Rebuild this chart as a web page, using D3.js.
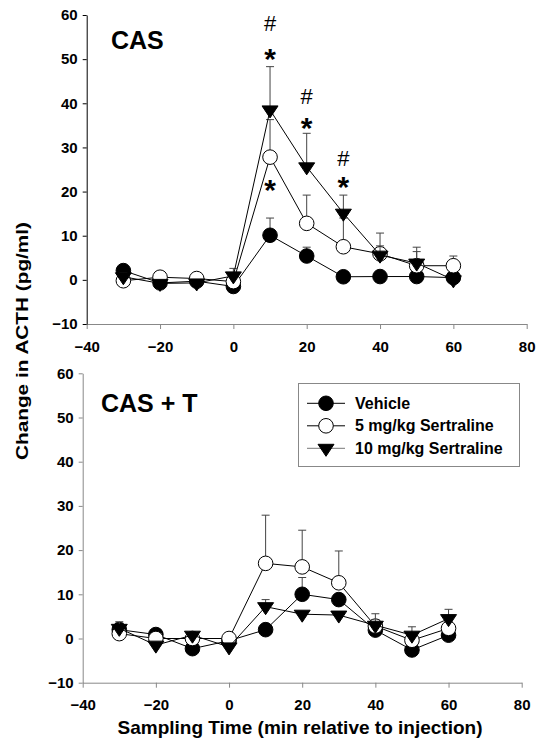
<!DOCTYPE html>
<html>
<head>
<meta charset="utf-8">
<script src="https://d3js.org/d3.v7.min.js"></script>
<style>
  body { margin: 0; background: #fff; }
  svg text { font-family: Arial, "Liberation Sans", sans-serif; font-weight: bold; }
</style>
</head>
<body>
<div id="chart"></div>
<script>
// sampling times (min relative to injection)
const times = [-30, -20, -10, 0, 10, 20, 30, 40, 50, 60];

// CAS panel: means and upper SEM
const vehCAS = [2.1, -0.7, -0.3, -1.5, 10.1, 5.4, 0.7, 0.75, 0.75, 0.5];
const vehCASerr = [0.5, 0.3, 0.3, 0.5, 3.9, 2.0, 0.3, 0.3, 0.3, 0.3];
const s5CAS = [-0.2, 0.6, 0.3, -0.4, 27.8, 12.8, 7.5, 5.9, 3.2, 3.2];
const s5CASerr = [0.5, 0.5, 0.5, 0.5, 8.5, 6.4, 6.5, 4.7, 3.2, 2.2];
const s10CAS = [0.7, -0.8, -0.7, 0.9, 38.5, 25.6, 15.1, 5.6, 3.8, 0];
const s10CASerr = [0.9, 0.5, 0.5, 1.7, 9.8, 7.6, 4.1, 2.1, 3.6, 0.5];

// CAS + T panel
const vehCAST = [2.0, 0.9, -2.3, -0.5, 2.0, 10.0, 8.8, 1.9, -2.6, 0.75];
const vehCASTerr = [1.5, 0.5, 0.5, 0.5, 0.5, 3.8, 0.5, 0.5, 0.5, 0.5];
const s5CAST = [1.1, 0, 0, 0, 17, 16.2, 12.6, 2.8, -0.4, 2.3];
const s5CASTerr = [0.5, 0.5, 0.5, 0.5, 10.9, 8.3, 7.2, 1.5, 1.5, 1.5];
const s10CAST = [2.3, -1.5, 0.75, -1.9, 7.2, 5.5, 5.3, 3.0, 0.75, 4.5];
const s10CASTerr = [1.5, 0.5, 0.5, 0.5, 1.6, 0.5, 0.5, 2.6, 1.9, 2.1];

const seriesNames = ["Vehicle", "5 mg/kg Sertraline", "10 mg/kg Sertraline"];
const xTicks = [-40, -20, 0, 20, 40, 60, 80];
const yTicks = [-10, 0, 10, 20, 30, 40, 50, 60];

// significance marks in CAS panel: [time, "#" level, "*" level]
const marksCAS = [[10, 58.1, 51.6], [20, 41.5, 36.0], [30, 27.5, 22.6]];
// "*" alone under the 5 mg/kg point: [time, level]
const starsCAS = [[10, 22.0]];

const svg = d3.select("#chart").append("svg")
    .attr("width", 536).attr("height", 740);

function drawPanel(p) {
    const x = d3.scaleLinear().domain([-40, 80]).range([p.x0, p.x1]);
    const y = d3.scaleLinear().domain([-10, 60]).range([p.y0, p.y1]);
    const g = svg.append("g");

    const xAxis = g.append("g")
        .attr("transform", `translate(0,${p.y0})`)
        .call(d3.axisBottom(x).tickValues(xTicks).tickSize(5).tickPadding(12).tickSizeOuter(0));
    xAxis.select(".domain").attr("stroke", "#888");
    xAxis.selectAll(".tick line").attr("stroke", "#888");
    xAxis.selectAll("text").attr("font-size", 15).attr("fill", "#000");

    const yAxis = g.append("g")
        .attr("transform", `translate(${p.x0},0)`)
        .call(d3.axisLeft(y).tickValues(yTicks).tickSize(4).tickPadding(5).tickSizeOuter(0));
    yAxis.select(".domain").attr("stroke", p.yAxisColor);
    yAxis.selectAll(".tick line").attr("stroke", p.yAxisColor);
    yAxis.selectAll("text").attr("font-size", 15).attr("fill", "#000");

    g.append("text")
        .attr("x", p.labelX).attr("y", p.labelY)
        .attr("font-size", 25)
        .text(p.label);

    const line = d3.line().x((d, i) => x(times[i])).y(d => y(d));

    p.series.forEach((s, k) => {
        // error bars (upper only)
        const eb = g.append("g").attr("stroke", "#444").attr("stroke-width", 1);
        s.mean.forEach((m, i) => {
            const top = y(m + s.err[i]);
            eb.append("line")
                .attr("x1", x(times[i])).attr("x2", x(times[i]))
                .attr("y1", y(m)).attr("y2", top);
            eb.append("line")
                .attr("x1", x(times[i]) - 4).attr("x2", x(times[i]) + 4)
                .attr("y1", top).attr("y2", top);
        });
        g.append("path")
            .datum(s.mean)
            .attr("d", line)
            .attr("fill", "none")
            .attr("stroke", "#000")
            .attr("stroke-width", 1);
        s.mean.forEach((m, i) => drawMarker(g, k, x(times[i]), y(m)));
    });

    // "#" over "*" as one text block per time point
    (p.marks || []).forEach(mk => {
        const t = g.append("text").attr("text-anchor", "middle");
        t.append("tspan")
            .attr("x", x(mk[0])).attr("y", y(mk[1]) + 7.5)
            .attr("font-size", 22).attr("font-weight", "normal")
            .text("#");
        t.append("tspan")
            .attr("x", x(mk[0])).attr("y", y(mk[2]) + 17)
            .attr("font-size", 30)
            .text("*");
    });
    (p.stars || []).forEach(st => {
        g.append("text")
            .attr("text-anchor", "middle")
            .attr("x", x(st[0])).attr("y", y(st[1]) + 17)
            .attr("font-size", 30)
            .text("*");
    });
}

function drawMarker(g, k, cx, cy) {
    if (k == 2) {
        g.append("path")
            .attr("d", `M${cx - 8},${cy - 4}L${cx + 8},${cy - 4}L${cx},${cy + 8}Z`)
            .attr("fill", "#000").attr("stroke", "#000");
    } else {
        g.append("circle")
            .attr("cx", cx).attr("cy", cy).attr("r", 7.3)
            .attr("fill", k == 0 ? "#000" : "#fff")
            .attr("stroke", "#000").attr("stroke-width", 1);
    }
}

drawPanel({
    x0: 86.7, x1: 526.7, y0: 324, y1: 15, yAxisColor: "#000",
    label: "CAS", labelX: 111, labelY: 49,
    series: [{mean: vehCAS, err: vehCASerr}, {mean: s5CAS, err: s5CASerr}, {mean: s10CAS, err: s10CASerr}],
    marks: marksCAS, stars: starsCAS
});

drawPanel({
    x0: 82.7, x1: 521.7, y0: 682.7, y1: 373.3, yAxisColor: "#888",
    label: "CAS + T", labelX: 101, labelY: 412,
    series: [{mean: vehCAST, err: vehCASTerr}, {mean: s5CAST, err: s5CASTerr}, {mean: s10CAST, err: s10CASTerr}]
});

// legend
const lg = svg.append("g");
lg.append("rect")
    .attr("x", 298.5).attr("y", 383.5).attr("width", 221).attr("height", 83)
    .attr("fill", "#fff").attr("stroke", "#888");
seriesNames.forEach((name, k) => {
    const cy = 403.3 + k * 22.5;
    lg.append("line")
        .attr("x1", 307).attr("x2", 345).attr("y1", cy).attr("y2", cy)
        .attr("stroke", k == 2 ? "#777" : "#000");
    drawMarker(lg, k, 326, cy);
    lg.append("text")
        .attr("x", 355).attr("y", cy).attr("dy", "0.35em")
        .attr("font-size", 16)
        .text(name);
});

// axis titles
svg.append("text")
    .attr("transform", "translate(28,341) rotate(-90)")
    .attr("text-anchor", "middle")
    .attr("font-size", 17)
    .attr("textLength", 238).attr("lengthAdjust", "spacingAndGlyphs")
    .text("Change in ACTH (pg/ml)");

svg.append("text")
    .attr("x", 300).attr("y", 734)
    .attr("text-anchor", "middle")
    .attr("font-size", 19)
    .text("Sampling Time (min relative to injection)");
</script>
</body>
</html>
